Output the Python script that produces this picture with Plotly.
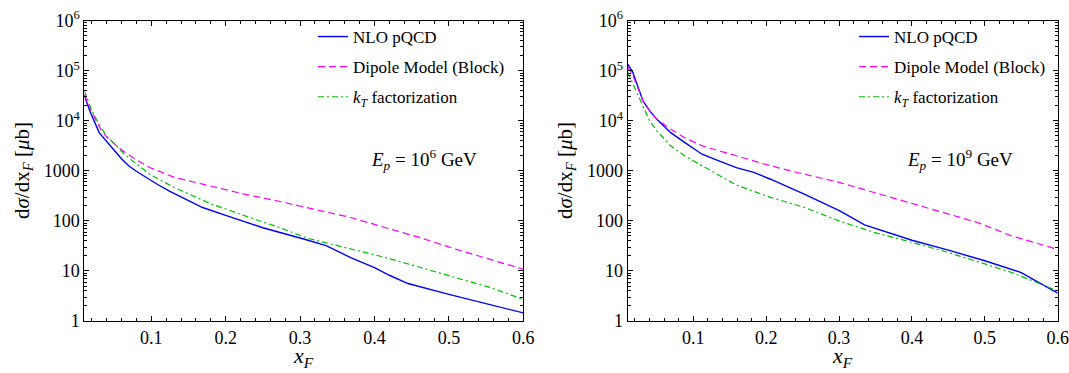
import plotly.graph_objects as go

# ---------------- data ----------------
# Left panel: E_p = 10^6 GeV
x_nlo_6 = [0.010, 0.018, 0.030, 0.040, 0.051, 0.060, 0.070, 0.080, 0.089, 0.108, 0.125, 0.146, 0.169, 0.202, 0.250, 0.306, 0.335, 0.368, 0.400, 0.420, 0.445, 0.500, 0.550, 0.600]
y_nlo_6 = [32000, 15000, 5800, 3800, 2500, 1750, 1250, 980, 800, 540, 390, 270, 185, 126, 73, 43, 32, 18.5, 11.7, 8.2, 5.6, 3.4, 2.2, 1.45]

x_dip_6 = [0.010, 0.020, 0.032, 0.040, 0.051, 0.062, 0.075, 0.098, 0.131, 0.179, 0.226, 0.273, 0.320, 0.368, 0.415, 0.462, 0.510, 0.557, 0.600]
y_dip_6 = [34000, 15000, 6800, 4700, 3400, 2500, 1850, 1170, 740, 500, 340, 244, 170, 117, 73, 46, 27, 17, 10.8]

x_kt_6 = [0.010, 0.020, 0.032, 0.040, 0.051, 0.062, 0.075, 0.098, 0.131, 0.179, 0.226, 0.273, 0.310, 0.368, 0.415, 0.462, 0.510, 0.557, 0.600]
y_kt_6 = [40000, 16000, 7400, 5000, 3400, 2300, 1580, 850, 464, 223, 126, 73, 45, 27, 18.5, 11.7, 7.4, 4.6, 2.7]

# Right panel: E_p = 10^9 GeV
x_nlo_9 = [0.010, 0.017, 0.031, 0.040, 0.050, 0.069, 0.088, 0.112, 0.135, 0.160, 0.183, 0.206, 0.253, 0.301, 0.335, 0.400, 0.450, 0.500, 0.550, 0.570, 0.600]
y_nlo_9 = [135000, 93000, 25000, 16000, 10700, 5800, 3700, 2150, 1580, 1150, 930, 680, 340, 158, 83, 41, 26, 16, 9.3, 6.3, 3.6]

x_dip_9 = [0.010, 0.017, 0.031, 0.040, 0.050, 0.069, 0.088, 0.112, 0.159, 0.206, 0.253, 0.300, 0.348, 0.395, 0.443, 0.490, 0.537, 0.600]
y_dip_9 = [120000, 80000, 25000, 16000, 10700, 6800, 4600, 3160, 2000, 1260, 850, 590, 370, 234, 146, 93, 50, 27]

x_kt_9 = [0.010, 0.017, 0.031, 0.040, 0.050, 0.060, 0.069, 0.088, 0.112, 0.159, 0.206, 0.253, 0.300, 0.348, 0.395, 0.443, 0.490, 0.537, 0.600]
y_kt_9 = [93000, 55000, 18500, 10000, 6300, 4300, 3160, 2000, 1260, 520, 295, 185, 100, 59, 39, 25, 15.4, 9.3, 4.0]

series_names = ["NLO pQCD", "Dipole Model (Block)", "<i>k</i><sub><i>T</i></sub> factorization"]
energy_labels = ["<i>E</i><sub><i>p</i></sub> = 10<sup>6</sup> GeV", "<i>E</i><sub><i>p</i></sub> = 10<sup>9</sup> GeV"]

x_major = [0.1, 0.2, 0.3, 0.4, 0.5, 0.6]
x_major_text = ["0.1", "0.2", "0.3", "0.4", "0.5", "0.6"]
x_minor = [0.02, 0.04, 0.06, 0.08, 0.12, 0.14, 0.16, 0.18, 0.22, 0.24, 0.26, 0.28,
           0.32, 0.34, 0.36, 0.38, 0.42, 0.44, 0.46, 0.48, 0.52, 0.54, 0.56, 0.58]
y_major = [1, 10, 100, 1000, 1e4, 1e5, 1e6]
y_major_text = ["1", "10", "100", "1000", "10<sup>4</sup>", "10<sup>5</sup>", "10<sup>6</sup>"]
y_minor = [k * 10 ** d for d in range(0, 6) for k in range(2, 10)]

ytitle = "d<i>σ</i>/dx<sub><i>F</i></sub> [<i>μ</i>b]"
xtitle = "<i>x</i><sub><i>F</i></sub>"

# ---------------- styles ----------------
FONT = "Times New Roman, Liberation Serif, DejaVu Serif, serif"
colors = ["#0000FF", "#FF00FF", "#00C000"]
dashes = ["solid", "7px,4px", "6px,3px,2px,3px"]
widths = [1.4, 1.2, 1.2]

fig = go.Figure()

panels = [
    (x_nlo_6, y_nlo_6, x_dip_6, y_dip_6, x_kt_6, y_kt_6, "x", "y", "legend"),
    (x_nlo_9, y_nlo_9, x_dip_9, y_dip_9, x_kt_9, y_kt_9, "x2", "y2", "legend2"),
]
for p, (xa, ya, xb, yb, xc, yc, xax, yax, leg) in enumerate(panels):
    for i, (xs, ys) in enumerate([(xa, ya), (xb, yb), (xc, yc)]):
        fig.add_trace(go.Scatter(
            x=xs, y=ys, mode="lines", name=series_names[i],
            line=dict(color=colors[i], dash=dashes[i], width=widths[i]),
            xaxis=xax, yaxis=yax, legend=leg, legendgroup=f"{leg}_{i}",
        ))


def xaxis_cfg(domain, anchor):
    return dict(
        domain=domain, anchor=anchor, range=[0.01, 0.6],
        tickmode="array", tickvals=x_major, ticktext=x_major_text,
        ticks="inside", ticklen=5, tickwidth=1, tickcolor="black",
        minor=dict(tickmode="array", tickvals=x_minor, ticks="inside", ticklen=3, tickcolor="black", tickwidth=1),
        showline=True, linecolor="black", linewidth=1, mirror="ticks",
        showgrid=False, zeroline=False, automargin=False,
        tickfont=dict(family=FONT, size=18, color="black"),
    )


def yaxis_cfg(domain, anchor):
    return dict(
        domain=domain, anchor=anchor, type="log", range=[0, 6],
        tickmode="array", tickvals=y_major, ticktext=y_major_text,
        ticks="inside", ticklen=5, tickwidth=1, tickcolor="black",
        minor=dict(tickmode="array", tickvals=y_minor, ticks="inside", ticklen=3, tickcolor="black", tickwidth=1),
        showline=True, linecolor="black", linewidth=1, mirror="ticks",
        showgrid=False, zeroline=False, automargin=False,
        tickfont=dict(family=FONT, size=18, color="black"),
    )


W, H = 1069, 373
ydom = [1 - 321 / H, 1 - 20.7 / H]
left_dom = [84.3 / W, 523.3 / W]
right_dom = [627.7 / W, 1057.7 / W]


def txt(text, x, y, size, xanchor="center", yanchor="middle", angle=0):
    return dict(text=text, x=x, y=y, xref="paper", yref="paper", showarrow=False,
                xanchor=xanchor, yanchor=yanchor, textangle=angle,
                font=dict(family=FONT, size=size, color="black"))


fig.update_layout(
    template="none",
    width=W, height=H,
    margin=dict(l=0, r=0, t=0, b=0),
    paper_bgcolor="white", plot_bgcolor="white",
    font=dict(family=FONT, color="black"),
    xaxis=xaxis_cfg(left_dom, "y"),
    yaxis=yaxis_cfg(ydom, "x"),
    xaxis2=xaxis_cfg(right_dom, "y2"),
    yaxis2=yaxis_cfg(ydom, "x2"),
    legend=dict(x=313 / W, y=1 - 19 / H, xanchor="left", yanchor="top",
                bgcolor="rgba(0,0,0,0)", font=dict(family=FONT, size=17, color="black"),
                tracegroupgap=5, itemclick=False),
    legend2=dict(x=854 / W, y=1 - 19 / H, xanchor="left", yanchor="top",
                 bgcolor="rgba(0,0,0,0)", font=dict(family=FONT, size=17, color="black"),
                 tracegroupgap=5, itemclick=False),
    annotations=[
        txt(energy_labels[0], 424 / W, 1 - 159 / H, 19),
        txt(energy_labels[1], 960 / W, 1 - 159 / H, 19),
        txt(xtitle, sum(left_dom) / 2, 0.0, 22, yanchor="bottom"),
        txt(xtitle, sum(right_dom) / 2, 0.0, 22, yanchor="bottom"),
        txt(ytitle, 23 / W, 1 - 171 / H, 21, angle=-90),
        txt(ytitle, 566 / W, 1 - 171 / H, 21, angle=-90),
    ],
)

fig.write_html("out.html")
